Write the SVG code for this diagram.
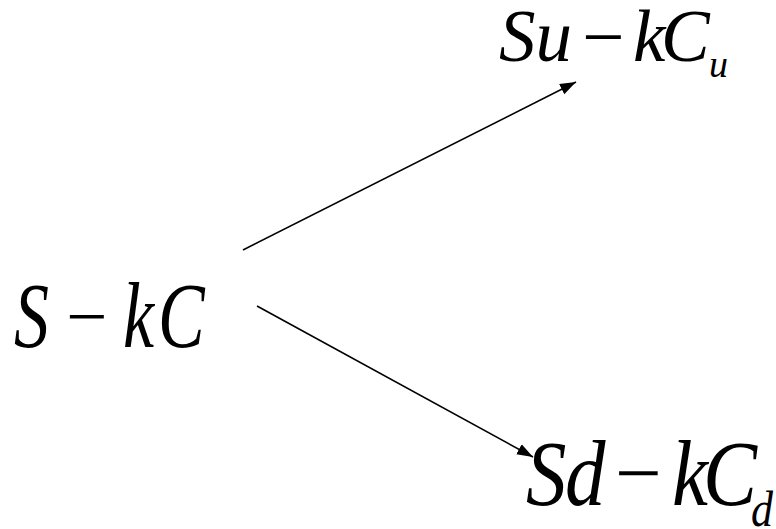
<svg xmlns="http://www.w3.org/2000/svg" width="776" height="529" viewBox="0 0 776 529">
<style>
.edge{stroke:#000;stroke-width:1.6;fill:none}
</style>
<defs>
<marker id="ah" markerUnits="userSpaceOnUse" markerWidth="16" markerHeight="12" refX="14" refY="5" orient="auto" viewBox="0 0 14 10">
<path d="M0,0 L14,5 L0,10 Z" fill="#000"/>
</marker>
</defs>
<g id="connectors">
<line class="edge" x1="243" y1="250" x2="576" y2="82" marker-end="url(#ah)"/>
<line class="edge" x1="257" y1="306" x2="533" y2="457" marker-end="url(#ah)"/>
</g>
<g id="node-source">
<g transform="translate(0,347) scale(1,1.33)">
<text font-family="Liberation Serif" font-style="italic" font-size="70" x="14" y="0">S</text>
<text font-family="Liberation Serif" font-style="italic" font-size="70" x="123" y="0">k</text>
<text font-family="Liberation Serif" font-style="italic" font-size="70" x="158" y="0">C</text>
</g>
<text font-family="Liberation Serif" font-size="73" x="66" y="340.5">−</text>
</g>
<g id="node-up">
<g transform="translate(0,61)">
<text font-family="Liberation Serif" font-style="italic" font-size="73" x="499" y="0">Su</text>
<text font-family="Liberation Serif" font-style="italic" font-size="73" x="633" y="0">k</text>
<text font-family="Liberation Serif" font-style="italic" font-size="73" x="661" y="0">C</text>
<text font-family="Liberation Serif" font-style="italic" font-size="38" x="709" y="16">u</text>
</g>
<text font-family="Liberation Serif" font-size="75" x="582" y="62">−</text>
</g>
<g id="node-down">
<g transform="translate(0,505) scale(1,1.15)">
<text font-family="Liberation Serif" font-style="italic" font-size="81" x="526" y="0">S</text>
<text font-family="Liberation Serif" font-style="italic" font-size="81" x="565" y="0">d</text>
<text font-family="Liberation Serif" font-style="italic" font-size="81" x="672" y="0">k</text>
<text font-family="Liberation Serif" font-style="italic" font-size="81" x="703" y="0">C</text>
<text font-family="Liberation Serif" font-style="italic" font-size="44" x="751" y="18.3">d</text>
</g>
<text font-family="Liberation Serif" font-size="83" x="615" y="501">−</text>
</g>
</svg>
